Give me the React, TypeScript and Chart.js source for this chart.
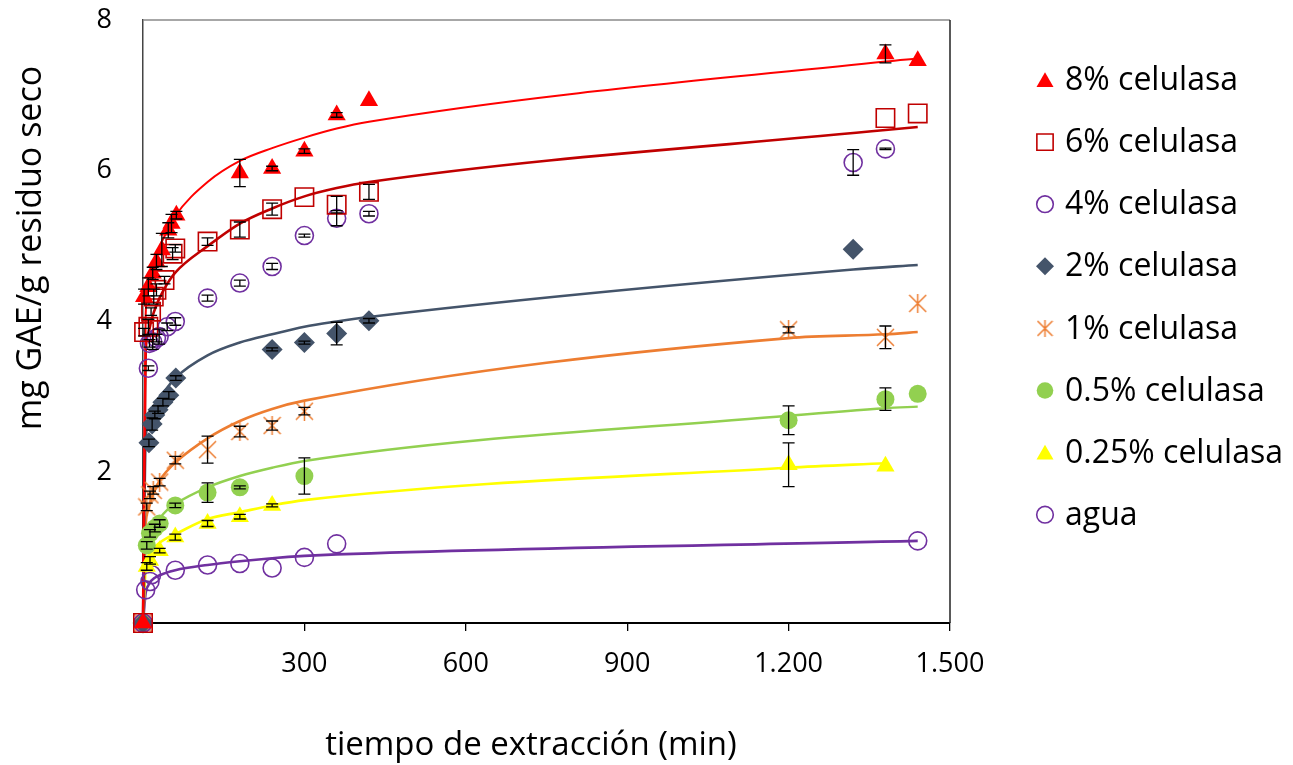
import React, { useEffect, useRef } from 'react';
import { Chart, registerables } from 'chart.js';
import { drawPoint } from 'chart.js/helpers';

Chart.register(...registerables);

// ---------- data (time in min, mg GAE/g residuo seco) ----------
const t8 = [0, 2, 10, 18, 25, 35, 47, 53, 62, 180, 240, 300, 360, 420, 1380, 1440];
const v8 = [0, 4.33, 4.46, 4.64, 4.79, 4.95, 5.21, 5.30, 5.41, 5.97, 6.03, 6.26, 6.74, 6.93, 7.55, 7.46];
const e8 = [0, 0.1, 0.12, 0.08, 0.1, 0.22, 0.1, 0.12, 0.05, 0.18, 0.03, 0.03, 0.03, 0, 0.12, 0];

const t6 = [0, 2, 10, 15, 20, 25, 40, 55, 60, 120, 180, 240, 300, 360, 420, 1380, 1440];
const v6 = [0, 3.86, 3.93, 4.13, 4.33, 4.42, 4.55, 4.90, 4.97, 5.06, 5.22, 5.49, 5.65, 5.55, 5.72, 6.70, 6.76];
const e6 = [0, 0.05, 0.1, 0.05, 0.1, 0.08, 0.05, 0.08, 0.05, 0.05, 0.1, 0.08, 0, 0.11, 0.1, 0, 0];

const t4 = [0, 10, 12, 18, 25, 30, 45, 60, 120, 180, 240, 300, 360, 420, 1320, 1380];
const v4 = [0, 3.38, 3.71, 3.73, 3.78, 3.80, 3.93, 4.00, 4.31, 4.51, 4.73, 5.14, 5.37, 5.43, 6.11, 6.29];
const e4 = [0, 0.03, 0.05, 0.1, 0.05, 0.1, 0.05, 0.05, 0.04, 0.04, 0.04, 0.02, 0.1, 0.03, 0.17, 0.01];

const t2 = [0, 11, 17, 22, 28, 37, 48, 61, 240, 300, 360, 420, 1320];
const v2 = [0, 2.39, 2.64, 2.76, 2.83, 2.93, 3.02, 3.25, 3.63, 3.72, 3.84, 4.01, 4.96];
const e2 = [0, 0.05, 0.08, 0.05, 0.05, 0.05, 0.05, 0.03, 0.02, 0.02, 0.15, 0.03, 0];

const t1 = [0, 7, 13, 19, 31, 60, 120, 180, 240, 300, 1200, 1380, 1440];
const v1 = [0, 1.54, 1.70, 1.76, 1.87, 2.16, 2.30, 2.54, 2.62, 2.81, 3.89, 3.79, 4.24];
const e1 = [0, 0.05, 0.05, 0.05, 0.05, 0.05, 0.18, 0.07, 0.06, 0.05, 0.04, 0.15, 0];

const t05 = [0, 7, 13, 22, 31, 60, 120, 180, 300, 1200, 1380, 1440];
const v05 = [0, 1.03, 1.19, 1.26, 1.32, 1.56, 1.73, 1.80, 1.95, 2.69, 2.97, 3.04];
const e05 = [0, 0.05, 0.05, 0.05, 0.05, 0.03, 0.13, 0.02, 0.24, 0.19, 0.15, 0];

const t025 = [0, 7, 13, 31, 60, 120, 180, 240, 1200, 1380];
const v025 = [0, 0.75, 0.83, 0.96, 1.14, 1.32, 1.41, 1.56, 2.10, 2.08];
const e025 = [0, 0.05, 0.05, 0.03, 0.04, 0.04, 0.03, 0.02, 0.29, 0];

const tA = [0, 5, 13, 16, 60, 120, 180, 240, 300, 360, 1440];
const vA = [0, 0.44, 0.55, 0.64, 0.70, 0.77, 0.79, 0.73, 0.87, 1.05, 1.09];
const eA = [0, 0, 0, 0, 0, 0, 0, 0, 0, 0, 0];

// model (fitted) curves
const lt8 = [0, 5, 10, 15, 20, 30, 45, 60, 120, 180, 240, 300, 360, 420, 1380, 1440];
const lv8 = [0, 4.1, 4.4, 4.6, 4.75, 4.98, 5.2, 5.4, 5.85, 6.13, 6.3, 6.44, 6.56, 6.65, 7.45, 7.49];
const lt6 = [0, 5, 10, 15, 20, 30, 45, 60, 120, 180, 240, 300, 360, 420, 1380, 1440];
const lv6 = [0, 3.6, 3.85, 4.0, 4.12, 4.3, 4.5, 4.65, 5.0, 5.3, 5.5, 5.66, 5.77, 5.85, 6.54, 6.58];
const lt2 = [0, 5, 10, 15, 20, 30, 45, 60, 120, 180, 240, 300, 360, 420, 1320, 1440];
const lv2 = [0, 2.45, 2.62, 2.74, 2.84, 2.98, 3.12, 3.25, 3.55, 3.72, 3.83, 3.93, 4.0, 4.06, 4.69, 4.75];
const lt1 = [0, 5, 10, 15, 20, 30, 45, 60, 120, 180, 240, 300, 1200, 1380, 1440];
const lv1 = [0, 1.3, 1.5, 1.63, 1.73, 1.88, 2.02, 2.13, 2.45, 2.68, 2.84, 2.95, 3.78, 3.83, 3.86];
const lt05 = [0, 5, 10, 15, 20, 30, 45, 60, 120, 180, 240, 300, 1200, 1380, 1440];
const lv05 = [0, 1.0, 1.13, 1.22, 1.28, 1.38, 1.5, 1.58, 1.8, 1.95, 2.06, 2.15, 2.75, 2.85, 2.87];
const lt025 = [0, 5, 10, 15, 20, 30, 45, 60, 120, 180, 240, 300, 1200, 1380];
const lv025 = [0, 0.72, 0.85, 0.93, 0.99, 1.06, 1.13, 1.18, 1.38, 1.47, 1.56, 1.63, 2.06, 2.12];
const ltA = [0, 5, 10, 15, 30, 60, 120, 180, 240, 300, 360, 1440];
const lvA = [0, 0.4, 0.5, 0.56, 0.63, 0.7, 0.77, 0.82, 0.86, 0.89, 0.91, 1.09];

const xTicks = [0, 300, 600, 900, 1200, 1500];
const yTicks = [0, 2, 4, 6, 8];

const FONT = "'Open Sans', 'Noto Sans', sans-serif";

function makeStar(color: string, size: number) {
  const c = document.createElement('canvas');
  c.width = size;
  c.height = size;
  const g = c.getContext('2d') as CanvasRenderingContext2D;
  g.strokeStyle = color;
  g.lineWidth = 1.5;
  g.beginPath();
  g.moveTo(1, 1); g.lineTo(size - 1, size - 1);
  g.moveTo(size - 1, 1); g.lineTo(1, size - 1);
  g.moveTo(size / 2, 0); g.lineTo(size / 2, size);
  g.stroke();
  return c;
}

type Series = {
  label: string; t: number[]; v: number[]; e: number[];
  style: any; legendStyle: any; radius: number; legendRadius: number;
  fill: string; stroke: string; bw: number;
  lt?: number[]; lv?: number[]; lineColor?: string; lineWidth?: number;
};

function fmtX(v: number) {
  if (v === 0) return '';
  if (v >= 1000) return Math.floor(v / 1000) + '.' + String(v % 1000).padStart(3, '0');
  return String(v);
}

export default function App() {
  const ref = useRef<HTMLCanvasElement | null>(null);

  useEffect(() => {
    const star = makeStar('#ED7D31', 19);
    const starL = makeStar('#ED7D31', 17);
    const series: Series[] = [
      { label: '8% celulasa', t: t8, v: v8, e: e8, style: 'triangle', legendStyle: 'triangle', radius: 10.5, legendRadius: 9.8, fill: '#FF0000', stroke: '#FF0000', bw: 0, lt: lt8, lv: lv8, lineColor: '#FF0000', lineWidth: 2 },
      { label: '6% celulasa', t: t6, v: v6, e: e6, style: 'rect', legendStyle: 'rect', radius: 13, legendRadius: 11.5, fill: 'rgba(0,0,0,0)', stroke: '#C00000', bw: 1.6, lt: lt6, lv: lv6, lineColor: '#C00000', lineWidth: 2.6 },
      { label: '4% celulasa', t: t4, v: v4, e: e4, style: 'circle', legendStyle: 'circle', radius: 9, legendRadius: 8.3, fill: 'rgba(0,0,0,0)', stroke: '#7030A0', bw: 1.6 },
      { label: '2% celulasa', t: t2, v: v2, e: e2, style: 'rectRot', legendStyle: 'rectRot', radius: 10.5, legendRadius: 9, fill: '#44546A', stroke: '#44546A', bw: 0, lt: lt2, lv: lv2, lineColor: '#44546A', lineWidth: 2.6 },
      { label: '1% celulasa', t: t1, v: v1, e: e1, style: star, legendStyle: starL, radius: 9, legendRadius: 8, fill: '#ED7D31', stroke: '#ED7D31', bw: 0, lt: lt1, lv: lv1, lineColor: '#ED7D31', lineWidth: 2.6 },
      { label: '0.5% celulasa', t: t05, v: v05, e: e05, style: 'circle', legendStyle: 'circle', radius: 9, legendRadius: 8.3, fill: '#92D050', stroke: '#92D050', bw: 0, lt: lt05, lv: lv05, lineColor: '#92D050', lineWidth: 2.4 },
      { label: '0.25% celulasa', t: t025, v: v025, e: e025, style: 'triangle', legendStyle: 'triangle', radius: 10.5, legendRadius: 9.8, fill: '#FFFF00', stroke: '#FFFF00', bw: 0, lt: lt025, lv: lv025, lineColor: '#FFFF00', lineWidth: 2.6 },
      { label: 'agua', t: tA, v: vA, e: eA, style: 'circle', legendStyle: 'circle', radius: 9, legendRadius: 8.3, fill: 'rgba(0,0,0,0)', stroke: '#7030A0', bw: 1.6, lt: ltA, lv: lvA, lineColor: '#7030A0', lineWidth: 2.6 },
    ];

    const datasets: any[] = [];
    series.forEach((s) => {
      datasets.push({
        label: s.label,
        data: s.t.map((x, i) => ({ x, y: s.v[i] })),
        showLine: false,
        pointStyle: s.style,
        pointRadius: s.radius,
        pointHoverRadius: s.radius,
        pointBackgroundColor: s.fill,
        pointBorderColor: s.stroke,
        pointBorderWidth: s.bw,
        clip: false,
      });
    });
    series.forEach((s) => {
      if (!s.lt || !s.lv) return;
      const lv = s.lv;
      datasets.push({
        label: s.label + ' modelo',
        data: s.lt.map((x, i) => ({ x, y: lv[i] })),
        showLine: true,
        pointRadius: 0,
        borderColor: s.lineColor,
        borderWidth: s.lineWidth,
        cubicInterpolationMode: 'monotone',
        fill: false,
        clip: false,
      });
    });

    const decorPlugin = {
      id: 'decor',
      afterDatasetsDraw(chart: any) {
        const { ctx, scales } = chart;
        const xs = scales.x, ys = scales.y;
        ctx.save();
        ctx.strokeStyle = '#000';
        ctx.lineWidth = 1.3;
        series.forEach((s) => {
          s.t.forEach((t, i) => {
            const e = s.e[i];
            if (!e) return;
            const px = xs.getPixelForValue(t);
            const y1 = ys.getPixelForValue(s.v[i] + e);
            const y2 = ys.getPixelForValue(s.v[i] - e);
            ctx.beginPath();
            ctx.moveTo(px, y1); ctx.lineTo(px, y2);
            ctx.moveTo(px - 6, y1); ctx.lineTo(px + 6, y1);
            ctx.moveTo(px - 6, y2); ctx.lineTo(px + 6, y2);
            ctx.stroke();
          });
        });
        ctx.restore();
      },
      afterDraw(chart: any) {
        const { ctx, chartArea: ca } = chart;
        ctx.save();
        // plot frame (top / right)
        ctx.lineWidth = 1.5;
        ctx.strokeStyle = '#8a8a8a';
        ctx.beginPath(); ctx.moveTo(ca.left, ca.top); ctx.lineTo(ca.right, ca.top); ctx.stroke();
        ctx.strokeStyle = '#222';
        ctx.beginPath(); ctx.moveTo(ca.right, ca.top); ctx.lineTo(ca.right, ca.bottom); ctx.stroke();

        // axis titles
        ctx.fillStyle = '#000';
        ctx.textAlign = 'center';
        ctx.textBaseline = 'middle';
        ctx.font = `33px ${FONT}`;
        ctx.fillText('tiempo de extracción (min)', 531, 746);
        ctx.save();
        ctx.translate(31, 248);
        ctx.rotate(-Math.PI / 2);
        ctx.font = `34px ${FONT}`;
        ctx.fillText('mg GAE/g residuo seco', 0, 0);
        ctx.restore();

        // legend
        series.forEach((s, i) => {
          const cy = 80 + i * 62.1;
          const cx = 1045;
          ctx.fillStyle = s.fill;
          ctx.strokeStyle = s.stroke;
          ctx.lineWidth = s.bw || 1;
          const my = s.legendStyle === 'triangle' ? cy + 2 : cy;
          drawPoint(ctx, { pointStyle: s.legendStyle, rotation: 0, radius: s.legendRadius, borderWidth: s.bw }, cx, my);
          ctx.fillStyle = '#000';
          ctx.textAlign = 'left';
          ctx.textBaseline = 'middle';
          ctx.font = `32px ${FONT}`;
          ctx.fillText(s.label, 1065, cy + 1);
        });
        ctx.restore();
      },
    };

    const chart = new Chart(ref.current as HTMLCanvasElement, {
      type: 'scatter',
      data: { datasets },
      plugins: [decorPlugin],
      options: {
        animation: false,
        responsive: true,
        maintainAspectRatio: false,
        devicePixelRatio: 1,
        layout: { padding: { left: 0, right: 343, top: 20, bottom: 0 } },
        plugins: { legend: { display: false }, tooltip: { enabled: false } },
        scales: {
          x: {
            type: 'linear',
            min: xTicks[0],
            max: xTicks[xTicks.length - 1],
            afterFit: (s: any) => { s.height = 142; s.paddingLeft = 0; s.paddingRight = 40; },
            afterBuildTicks: (s: any) => { s.ticks = xTicks.map((value) => ({ value })); },
            ticks: {
              color: '#000',
              font: { family: FONT, size: 27 },
              padding: 17,
              maxRotation: 0,
              autoSkip: false,
              callback: (v: any) => fmtX(Number(v)),
            },
            grid: { drawOnChartArea: false, drawTicks: true, tickLength: 8, color: '#000', lineWidth: 1.3 },
            border: { display: true, color: '#000', width: 2 },
          },
          y: {
            type: 'linear',
            min: yTicks[0],
            max: yTicks[yTicks.length - 1],
            afterFit: (s: any) => { s.width = 143; s.paddingTop = 16; s.paddingBottom = 0; },
            afterBuildTicks: (s: any) => { s.ticks = yTicks.map((value) => ({ value })); },
            ticks: {
              color: '#000',
              font: { family: FONT, size: 27 },
              padding: 31,
              autoSkip: false,
              callback: (v: any) => (Number(v) === 0 ? '' : String(v)),
            },
            grid: { drawOnChartArea: false, drawTicks: false },
            border: { display: true, color: '#444', width: 1.5 },
          },
        },
      },
    });
    return () => chart.destroy();
  }, []);

  return (
    <div style={{ position: 'fixed', left: 0, top: 0, width: 1293, height: 765, background: '#fff' }}>
      <canvas ref={ref} />
    </div>
  );
}
